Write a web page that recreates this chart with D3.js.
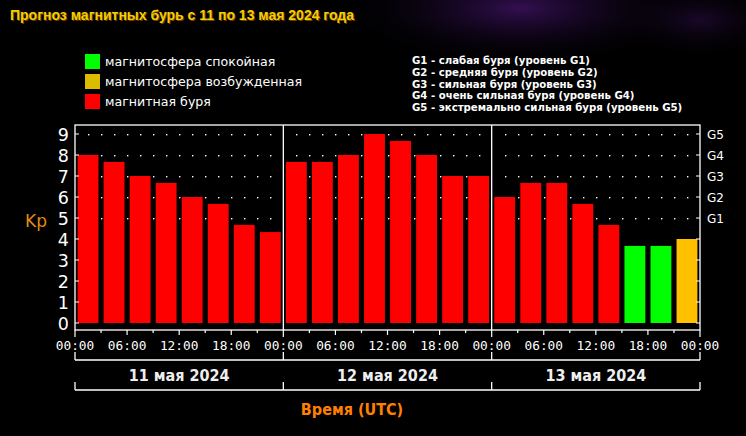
<!DOCTYPE html>
<html>
<head>
<meta charset="utf-8">
<script src="https://cdn.jsdelivr.net/npm/d3@7"></script>
<style>
  html, body { margin: 0; padding: 0; background: #000; }
  svg { display: block; }
</style>
</head>
<body>
<svg id="chart" width="746" height="436"></svg>
<script>
"use strict"

// Kp forecast, 3-hour intervals, 11-13 May 2024
const days = ["11 мая 2024", "12 мая 2024", "13 мая 2024"]
const kpValues = [8, 7.67, 7, 6.67, 6, 5.67, 4.67, 4.33,
                  7.67, 7.67, 8, 9, 8.67, 8, 7, 7,
                  6, 6.67, 6.67, 5.67, 4.67, 3.67, 3.67, 4]
const kpStatus = ["storm", "storm", "storm", "storm", "storm", "storm", "storm", "storm",
                  "storm", "storm", "storm", "storm", "storm", "storm", "storm", "storm",
                  "storm", "storm", "storm", "storm", "storm", "quiet", "quiet", "active"]
const yTicks = [0, 1, 2, 3, 4, 5, 6, 7, 8, 9]
const gLevels = ["G1", "G2", "G3", "G4", "G5"]
const gKp = [5, 6, 7, 8, 9]
const timeLabels = ["00:00", "06:00", "12:00", "18:00"]
const legendItems = ["магнитосфера спокойная", "магнитосфера возбужденная", "магнитная буря"]
const gDescriptions = [
    "G1 - слабая буря (уровень G1)",
    "G2 - средняя буря (уровень G2)",
    "G3 - сильная буря (уровень G3)",
    "G4 - очень сильная буря (уровень G4)",
    "G5 - экстремально сильная буря (уровень G5)"
]

const barColor = { quiet: "#00ff00", active: "#ffc000", storm: "#ff0000" }
const legendColors = ["#00ff00", "#dcbc00", "#ff0000"]

const svg = d3.select("#chart")

// background glow
const defs = svg.append("defs")
const glow = defs.append("radialGradient").attr("id", "glow")
glow.append("stop").attr("offset", "0%").attr("stop-color", "#3c1260").attr("stop-opacity", 0.85)
glow.append("stop").attr("offset", "100%").attr("stop-color", "#000").attr("stop-opacity", 0)

svg.append("rect").attr("width", 746).attr("height", 436).attr("fill", "#000")
svg.append("ellipse").attr("cx", 520).attr("cy", 8).attr("rx", 190).attr("ry", 60).attr("fill", "url(#glow)")
svg.append("ellipse").attr("cx", 700).attr("cy", 20).attr("rx", 90).attr("ry", 40).attr("fill", "url(#glow)").attr("opacity", 0.5)

// scales
const x = d3.scaleLinear().domain([0, 72]).range([75, 700])
const y = d3.scaleLinear().domain([0, 9]).range([323, 134])
const plotTop = 125, plotBottom = 330

// title
const title = "Прогноз магнитных бурь с 11 по 13 мая 2024 года"
svg.append("text").attr("x", 11).attr("y", 21).text(title)
    .attr("font-family", "Liberation Sans, Arial, sans-serif").attr("font-weight", "bold")
    .attr("font-size", 14).attr("fill", "#7a3a00")
svg.append("text").attr("x", 10).attr("y", 20).text(title)
    .attr("font-family", "Liberation Sans, Arial, sans-serif").attr("font-weight", "bold")
    .attr("font-size", 14).attr("fill", "#f2d000")

// legend
const legend = svg.append("g")
legendItems.forEach((d, i) => {
    legend.append("rect").attr("x", 85).attr("y", 54 + i * 20).attr("width", 15).attr("height", 15)
        .attr("fill", legendColors[i])
    legend.append("text").attr("x", 105).attr("y", 66 + i * 20).text(d)
        .attr("font-family", "DejaVu Sans, sans-serif").attr("font-size", 12.6).attr("fill", "#fff")
})

gDescriptions.forEach((d, i) => {
    svg.append("text").attr("x", 412).attr("y", 64 + i * 11.8).text(d)
        .attr("font-family", "DejaVu Sans Condensed, DejaVu Sans, sans-serif").attr("font-weight", "bold")
        .attr("font-size", 11.3).attr("fill", "#fff")
})

// dotted grid at G levels
const dotHours = d3.range(1.5, 72, 1.5).filter(h => h % 24 !== 0)
gKp.forEach(k => {
    svg.append("g").selectAll("rect").data(dotHours).join("rect")
        .attr("x", h => Math.round(x(h)))
        .attr("y", Math.round(y(k)))
        .attr("width", 1.4).attr("height", 1.4)
        .attr("fill", "#fff")
})

// bars
svg.append("g").selectAll("rect").data(kpValues).join("rect")
    .attr("x", (d, i) => x(i * 3) + 2.6)
    .attr("width", (d, i) => x(i * 3 + 3) - x(i * 3) - 5.2)
    .attr("y", d => y(d))
    .attr("height", d => y(0) - y(d))
    .attr("fill", (d, i) => barColor[kpStatus[i]])

// frame
const line = "#fff"
svg.append("rect").attr("x", x(0)).attr("y", plotTop).attr("width", x(72) - x(0)).attr("height", plotBottom - plotTop)
    .attr("fill", "none").attr("stroke", line).attr("stroke-width", 1.3)
;[24, 48].forEach(h => {
    svg.append("line").attr("x1", x(h)).attr("x2", x(h)).attr("y1", plotTop).attr("y2", plotBottom)
        .attr("stroke", line).attr("stroke-width", 1.3)
})

// left axis
const leftAxis = svg.append("g")
yTicks.forEach(t => {
    leftAxis.append("line").attr("x1", x(0)).attr("x2", x(0) + 4).attr("y1", y(t)).attr("y2", y(t))
        .attr("stroke", line)
    leftAxis.append("text").attr("x", 69).attr("y", y(t) + 6.5).attr("text-anchor", "end").text(t)
        .attr("font-family", "DejaVu Sans, sans-serif").attr("font-size", 17.5).attr("fill", "#fff")
})
svg.append("text").attr("x", 25).attr("y", 227).text("Kp")
    .attr("font-family", "DejaVu Sans, sans-serif").attr("font-size", 17).attr("fill", "#e08a10")

// right axis
yTicks.forEach(t => {
    svg.append("line").attr("x1", x(72) - 4).attr("x2", x(72)).attr("y1", y(t)).attr("y2", y(t))
        .attr("stroke", line)
})
gLevels.forEach((g, i) => {
    svg.append("text").attr("x", 707).attr("y", y(gKp[i]) + 4.5).text(g)
        .attr("font-family", "DejaVu Sans, sans-serif").attr("font-size", 12).attr("fill", "#fff")
})

// bottom axis
const tickHours = d3.range(0, 73, 3)
svg.append("g").selectAll("line").data(tickHours).join("line")
    .attr("x1", h => x(h)).attr("x2", h => x(h))
    .attr("y1", plotBottom)
    .attr("y2", h => plotBottom + (h % 24 === 0 ? 7 : h % 6 === 0 ? 5 : 3))
    .attr("stroke", line).attr("stroke-width", 1.2)

svg.append("g").selectAll("text").data(d3.range(0, 73, 6)).join("text")
    .attr("x", h => x(h)).attr("y", 349.5).attr("text-anchor", "middle")
    .text(h => timeLabels[(h % 24) / 6])
    .attr("font-family", "DejaVu Sans Mono, monospace").attr("font-size", 12.8).attr("fill", "#fff")

// day brackets
const brackets = svg.append("g").attr("stroke", line).attr("stroke-width", 1.3).attr("fill", "none")
brackets.append("line").attr("x1", x(0)).attr("x2", x(72)).attr("y1", 360).attr("y2", 360)
brackets.append("line").attr("x1", x(0)).attr("x2", x(72)).attr("y1", 390).attr("y2", 390)
d3.range(0, 73, 24).forEach(h => {
    brackets.append("line").attr("x1", x(h)).attr("x2", x(h)).attr("y1", 352).attr("y2", 360)
    brackets.append("line").attr("x1", x(h)).attr("x2", x(h)).attr("y1", 382).attr("y2", 390)
})
days.forEach((d, i) => {
    svg.append("text").attr("x", (x(i * 24) + x(i * 24 + 24)) / 2).attr("y", 380.5)
        .attr("text-anchor", "middle").text(d)
        .attr("font-family", "DejaVu Sans Condensed, DejaVu Sans, sans-serif").attr("font-weight", "bold")
        .attr("font-size", 16).attr("fill", "#eee")
})

svg.append("text").attr("x", 352).attr("y", 415).attr("text-anchor", "middle").text("Время (UTC)")
    .attr("font-family", "DejaVu Sans Condensed, DejaVu Sans, sans-serif").attr("font-weight", "bold")
    .attr("font-size", 16).attr("fill", "#ff8000")
</script>
</body>
</html>
